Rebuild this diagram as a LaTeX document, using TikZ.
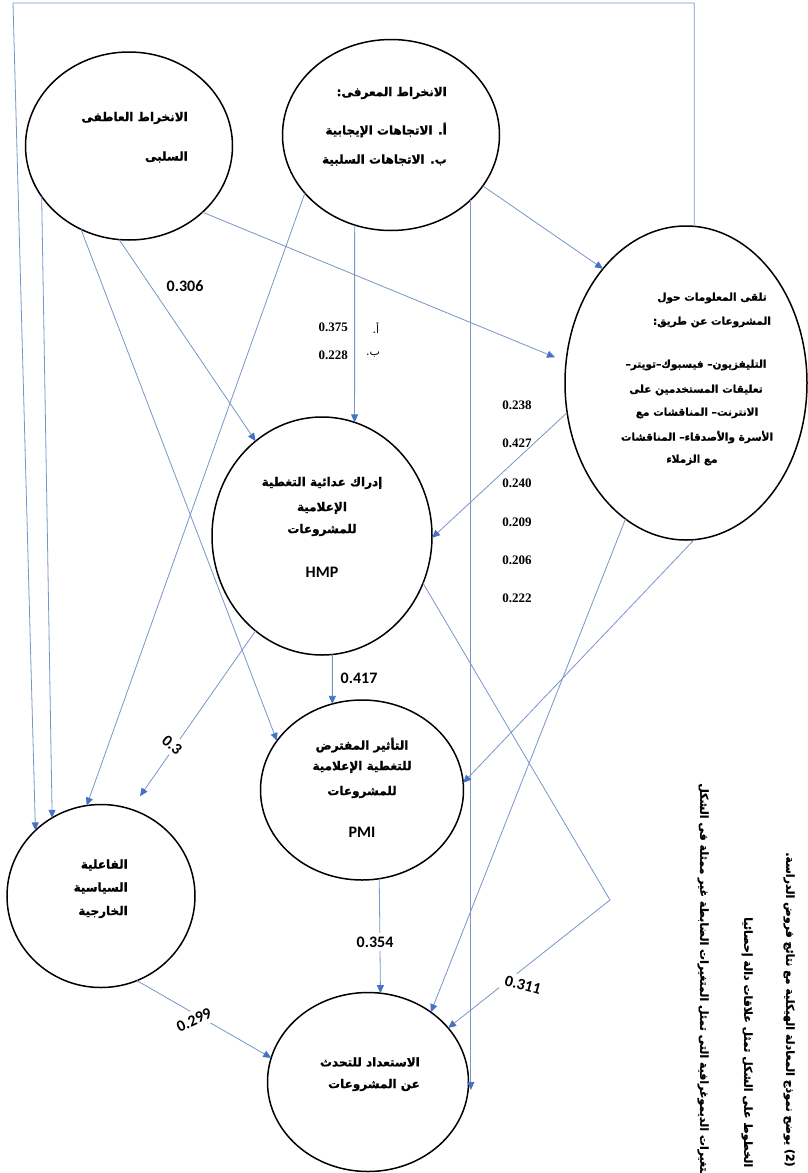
\documentclass[tikz,border=0pt]{standalone}
\usepackage{fontspec}
\usetikzlibrary{arrows.meta,calc,shapes.geometric}
\TeXXeTstate=1
\newfontfamily\arabicfont[Script=Arabic, BoldFeatures={FakeBold=1.2}]{DejaVu Sans}
\newfontfamily\calfont{Carlito}
\newfontfamily\timesfont{Liberation Serif}
\newcommand\AR[1]{\beginR #1\endR}
\definecolor{linec}{RGB}{120,150,200}
\definecolor{tipc}{RGB}{68,114,196}
\begin{document}
\begin{tikzpicture}[x=1pt,y=-1pt,
  ell/.style={draw=black, line width=1.5pt, ellipse, inner sep=0pt, outer sep=0pt},
  ar/.style={font=\arabicfont\bfseries\fontsize{12}{14}\selectfont, inner sep=0pt},
  arsm/.style={font=\arabicfont\bfseries\fontsize{10.5}{12}\selectfont, inner sep=0pt},
  arcap/.style={font=\arabicfont\bfseries\fontsize{11}{13}\selectfont, inner sep=0pt, rotate=-90, anchor=west},
  arlight/.style={font=\arabicfont\fontsize{11}{13}\selectfont, inner sep=0pt},
  lat/.style={font=\calfont\bfseries\fontsize{16}{18}\selectfont, inner sep=1pt},
  num/.style={font=\timesfont\bfseries\fontsize{13}{15}\selectfont, inner sep=0pt},
  conn/.style={draw=linec, line width=0.8pt},
  arr/.style={conn, -{Triangle[length=8pt,width=7pt,color=tipc]}},
  lbl/.style={lat, fill=white, inner sep=4pt}
]
\fill[white] (0,0) rectangle (808,1173);
\useasboundingbox (0,0) rectangle (808,1173);

% ellipses
\node[ell, minimum width=207pt, minimum height=188pt] (aff) at (129,146) {};
\node[ell, minimum width=217pt, minimum height=191pt] (cog) at (391,135) {};
\node[ell, minimum width=242pt, minimum height=314pt] (info) at (686,383) {};
\node[ell, minimum width=220pt, minimum height=238pt] (hmp) at (322,536) {};
\node[ell, minimum width=203pt, minimum height=180pt] (pmi) at (362,790) {};
\node[ell, minimum width=188pt, minimum height=183pt] (fpe) at (101,896) {};
\node[ell, minimum width=201pt, minimum height=179pt] (outc) at (368,1082) {};

% connectors
\coordinate (tl) at (13,3);
\coordinate (bend) at (610,900);
\draw[arr] (aff.210) -- (fpe.122);
\draw[arr] (info.87) |- (tl) -- (fpe.135);
\draw[arr] (cog.214) -- (fpe.99);
\draw[arr] (aff.240) -- (pmi.150);
\draw[arr] (aff.264) -- (hmp.125);
\draw[arr, shorten >=12pt] (aff.-42) -- (info.170);
\draw[arr] (cog.-29) -- (info.126);
\draw[arr] (cog.248) -- (hmp.74);
\draw[arr] (cog.-39.4) -- ($(cog.-39.4 |- outc.east)+(0,8)$);
\draw[arr] (hmp.-85) -- (pmi.109);
\draw[arr, shorten >=16pt] (hmp.235) -- (fpe.71);
\draw[arr] (pmi.-79) -- (outc.82);
\draw[arr] (fpe.-67) -- (outc.166);
\draw[arr] (hmp.-25) -- (bend) -- (outc.34);
\draw[arr] (info.194) -- (hmp.-1);
\draw[arr] (info.-87.5) -- (pmi.4);
\draw[arr] (info.246) -- (outc.48);

% coefficient labels
\node[lat] (l306) at (185,286) {0.306};
\node[num, anchor=east] (l375) at (348,327) {0.375};
\node[num, anchor=east] (l228) at (348,355) {0.228};
\node[arlight] (la) at (376,328) {\AR{أ.}};
\node[arlight] (lb) at (373,355) {\AR{ب.}};
\node[num] (n1) at (517,405) {0.238};
\node[num] (n2) at (517,443) {0.427};
\node[num] (n3) at (517,483) {0.240};
\node[num] (n4) at (517,522) {0.209};
\node[num] (n5) at (517,560) {0.206};
\node[num] (n6) at (517,598) {0.222};
\node[lat] (l417) at (359,678) {0.417};
\node[lbl, rotate=-40] (l3) at (172,745) {0.3};
\node[lbl] (l354) at (375,942) {0.354};
\node[lbl, rotate=25] (l299) at (194,1020) {0.299};
\node[lbl, rotate=-15] (l311) at (523,985) {0.311};

% texts in ellipses
\node[ar, anchor=east] (affA) at (188,118) {\AR{الانخراط العاطفى}};
\node[ar, anchor=east] (affB) at (188,157) {\AR{السلبى}};

\node[ar, anchor=east] (cogA) at (447,93) {\AR{الانخراط المعرفى:}};
\node[ar, anchor=east] (cogB) at (447,130) {\AR{أ. الاتجاهات الإيجابية}};
\node[ar, anchor=east] (cogC) at (447,160) {\AR{ب. الاتجاهات السلبية}};

\node[arsm] (infA) at (712,298) {\AR{تلقى المعلومات حول}};
\node[arsm] (infB) at (712,322) {\AR{المشروعات عن طريق:}};
\node[arsm] (infC) at (696,365) {\AR{التليفزيون– فيسبوك–تويتر–}};
\node[arsm] (infD) at (696,390) {\AR{تعليقات المستخدمين على}};
\node[arsm] (infE) at (697,413) {\AR{الانترنت– المناقشات مع}};
\node[arsm] (infF) at (697,437) {\AR{الأسرة والأصدقاء– المناقشات}};
\node[arsm] (infG) at (692,460) {\AR{مع الزملاء}};

\node[ar] (hmpA) at (322,483) {\AR{إدراك عدائية التغطية}};
\node[ar] (hmpB) at (322,508) {\AR{الإعلامية}};
\node[ar] (hmpC) at (322,530) {\AR{للمشروعات}};
\node[lat] (hmpD) at (322,572) {HMP};

\node[ar] (pmiA) at (362,745) {\AR{التأثير المفترض}};
\node[ar] (pmiB) at (362,767) {\AR{للتغطية الإعلامية}};
\node[ar] (pmiC) at (362,792) {\AR{للمشروعات}};
\node[lat] (pmiD) at (362,832) {PMI};

\node[ar, anchor=east] (fpeA) at (128,865) {\AR{الفاعلية}};
\node[ar, anchor=east] (fpeB) at (128,888) {\AR{السياسية}};
\node[ar, anchor=east] (fpeC) at (128,912) {\AR{الخارجية}};

\node[ar, anchor=east] (outA) at (420,1062) {\AR{الاستعداد للتحدث}};
\node[ar, anchor=east] (outB) at (420,1085) {\AR{عن المشروعات}};

% caption (rotated)
\node[arcap] (cap1) at (789,852) {\AR{(2) يوضح نموذج المعادلة الهيكلية مع نتائج فروض الدراسة.}};
\node[arcap] (cap2) at (747,917) {\AR{الخطوط على الشكل تمثل علاقات دالة إحصائيا}};
\node[arcap] (cap3) at (703,783) {\AR{المتغيرات الديموغرافية التى تمثل المتغيرات الضابطة غير ممثلة فى الشكل}};
\end{tikzpicture}
\end{document}
